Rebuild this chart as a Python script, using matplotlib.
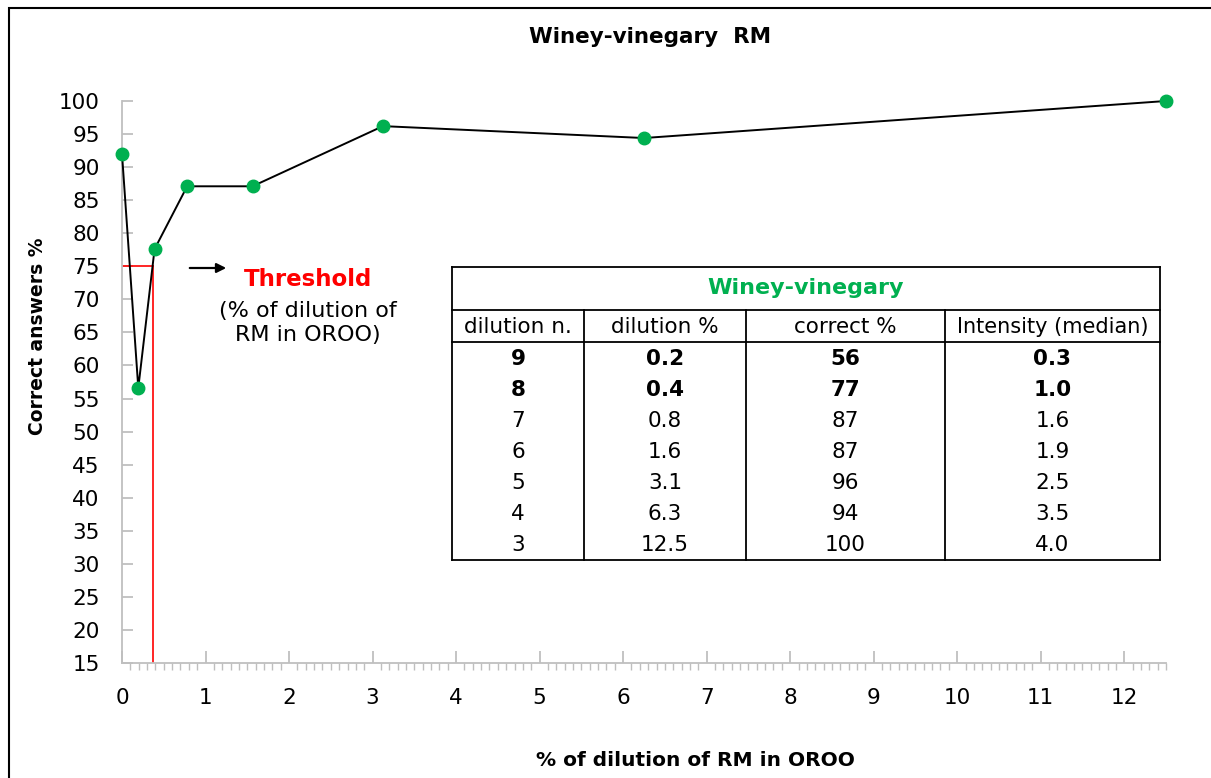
import matplotlib
matplotlib.use("Agg")
import matplotlib.pyplot as plt
from matplotlib.lines import Line2D
from matplotlib.patches import Rectangle

# ---- data ----
dilution_pct = [0.0, 0.195, 0.39, 0.78, 1.5625, 3.125, 6.25, 12.5]
correct_pct = [92.0, 56.6, 77.6, 87.1, 87.1, 96.2, 94.4, 100.0]
threshold_x = 0.37
threshold_y = 75

table_title = "Winey-vinegary"
col_headers = ["dilution n.", "dilution %", "correct %", "Intensity (median)"]
tbl_dil_n = ["9", "8", "7", "6", "5", "4", "3"]
tbl_dil_pct = ["0.2", "0.4", "0.8", "1.6", "3.1", "6.3", "12.5"]
tbl_correct = ["56", "77", "87", "87", "96", "94", "100"]
tbl_intensity = ["0.3", "1.0", "1.6", "1.9", "2.5", "3.5", "4.0"]
bold_rows = [0, 1]

W, H = 1211, 778
fig = plt.figure(figsize=(W / 100, H / 100), dpi=100)
plt.rcParams['font.family'] = ['DejaVu Sans']

def fx(px):
    return px / W

def fy(py):
    return 1 - py / H

# outer frame
fig.add_artist(Rectangle((fx(9), fy(830)), fx(1250), fy(8) - fy(830), transform=fig.transFigure,
                         fill=False, edgecolor='black', lw=1.5))

ax = fig.add_axes([fx(122), fy(663), fx(1166) - fx(122), fy(101) - fy(663)])
grey = '#BFBFBF'
ax.plot(dilution_pct, correct_pct, color='black', lw=1.4, zorder=3, clip_on=False)
ax.plot(dilution_pct, correct_pct, 'o', color='#00B050', ms=9, zorder=4, clip_on=False)
ax.plot([0, threshold_x], [threshold_y, threshold_y], color='#FF0000', lw=1.2, zorder=2)
ax.plot([threshold_x, threshold_x], [15, threshold_y], color='#FF0000', lw=1.2, zorder=2)

ax.set_xlim(0, 12.5)
ax.set_ylim(15, 100)
ax.set_xticks(range(0, 13))
ax.set_xticks([i / 10 for i in range(0, 126)], minor=True)
ax.set_yticks(range(15, 101, 5))
for s in ['top', 'right']:
    ax.spines[s].set_visible(False)
for s in ['left', 'bottom']:
    ax.spines[s].set_color(grey)
    ax.spines[s].set_linewidth(1.3)
ax.tick_params(axis='x', which='major', direction='in', length=9, width=1.3, color=grey,
               labelsize=15.5, pad=18)
ax.tick_params(axis='x', which='minor', direction='out', length=5, width=1.0, color=grey)
ax.tick_params(axis='y', which='major', direction='in', length=8, width=1.3, color=grey,
               labelsize=15.5, pad=16)
ax.set_facecolor('none')

fig.text(fx(650), fy(37), "Winey-vinegary  RM", ha='center', va='center', fontsize=15.5, fontweight='bold')
fig.text(fx(38), fy(336), "Correct answers %", rotation=90, ha='center', va='center', fontsize=13.5, fontweight='bold')
fig.text(fx(695), fy(760), "% of dilution of RM in OROO", ha='center', va='center', fontsize=14.5, fontweight='bold')

# threshold annotation
ax.annotate("", xy=(fx(229), fy(268)), xytext=(fx(187), fy(268)), xycoords='figure fraction',
            arrowprops=dict(arrowstyle='-|>', color='black', lw=1.6, mutation_scale=14))
fig.text(fx(308), fy(279), "Threshold", color='#FF0000', ha='center', va='center', fontsize=16.5, fontweight='bold')
fig.text(fx(308), fy(323), "(% of dilution of\nRM in OROO)", ha='center', va='center', fontsize=16,
         linespacing=1.3)

# table
tl, tr = 452, 1160
t_top, t_head, t_rows = 267, 310, 342
row_h = (560 - 342) / 7
col_x = [452, 584, 746, 945, 1160]
lw = 1.3
def hline(y, x0=tl, x1=tr):
    fig.add_artist(Line2D([fx(x0), fx(x1)], [fy(y), fy(y)], transform=fig.transFigure, color='black', lw=lw))
def vline(x, y0, y1):
    fig.add_artist(Line2D([fx(x), fx(x)], [fy(y0), fy(y1)], transform=fig.transFigure, color='black', lw=lw))

hline(t_top); hline(t_head); hline(t_rows); hline(560)
vline(tl, t_top, 560); vline(tr, t_top, 560)
for cx in col_x[1:-1]:
    vline(cx, t_head, 560)

fig.text(fx((tl + tr) / 2), fy((t_top + t_head) / 2), table_title, color='#00B050', ha='center', va='center',
         fontsize=16, fontweight='bold')
for i, h in enumerate(col_headers):
    fig.text(fx((col_x[i] + col_x[i + 1]) / 2), fy((t_head + t_rows) / 2 + 1), h, ha='center', va='center',
             fontsize=15.5 if i < 3 else 15)
cols = [tbl_dil_n, tbl_dil_pct, tbl_correct, tbl_intensity]
for r in range(7):
    yc = t_rows + row_h * (r + 0.5) + 1
    for i, col in enumerate(cols):
        fig.text(fx((col_x[i] + col_x[i + 1]) / 2), fy(yc), col[r], ha='center', va='center', fontsize=15.5,
                 fontweight='bold' if r in bold_rows else 'normal')

fig.savefig("out.png", dpi=100)
